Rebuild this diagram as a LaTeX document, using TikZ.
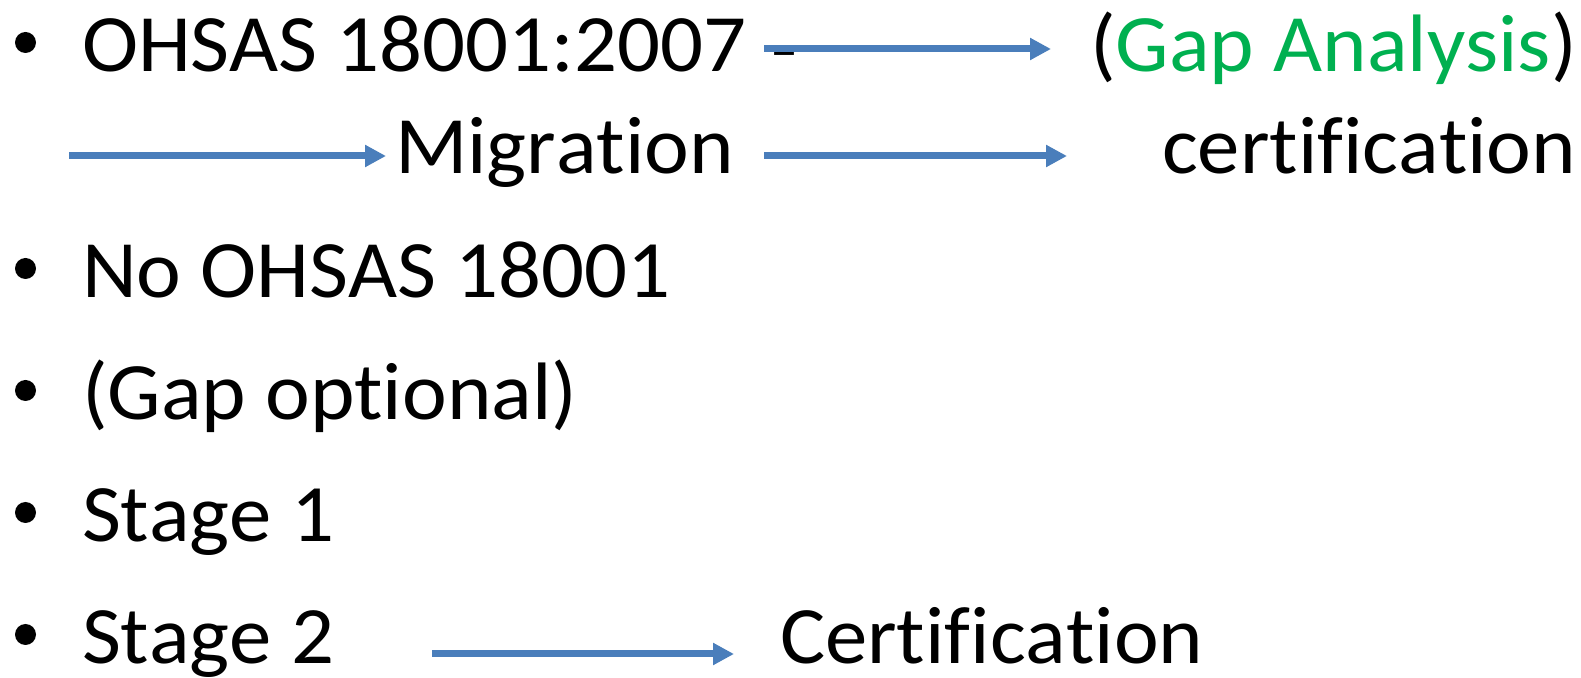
\documentclass[tikz,border=0pt]{standalone}
\usepackage{fontspec}
\setmainfont{Carlito}[Ligatures={NoCommon},Kerning=Off,FakeStretch=1.04]
\usetikzlibrary{arrows.meta}
\definecolor{flowblue}{HTML}{4A7EBB}
\definecolor{gapgreen}{HTML}{00B050}
\begin{document}
\begin{tikzpicture}[x=0.5pt,y=-0.5pt,
  every node/.style={inner sep=0pt,outer sep=0pt,anchor=base west,
    font=\fontsize{40.75pt}{48pt}\selectfont},
  bulletdot/.style={fill=black},
  flow/.style={draw=flowblue,line width=3.5pt,
    -{Triangle[length=10.5pt,width=10.5pt,fill=flowblue]}}]
\useasboundingbox (0,0) rectangle (1581,678);

% bullet markers
\foreach \b in {72,298,420,542,664}
  \fill[bulletdot] (25.5,\b-29.5) circle (5.25pt);

% item texts
\node (ohsas)  at (82,72)   {OHSAS 18001:2007};
\node (dash)   at (771,76)  {-};
\node (gap)    at (1090,72) {(\textcolor{gapgreen}{Gap Analysis})};
\node (migr)   at (395,174) {Migration};
\node (cert)   at (1162,174) {certification};
\node (noohs)  at (82,298)  {No OHSAS 18001};
\node (gapopt) at (82,420)  {(Gap optional)};
\node (st1)    at (82,542)  {Stage 1};
\node (st2)    at (82,664)  {Stage 2};
\node (certB)  at (780,664) {Certification};

% connector end points
\coordinate (a1s) at (764,49);  \coordinate (a1e) at (1051,49);
\coordinate (a2s) at (69,156);  \coordinate (a2e) at (386,156);
\coordinate (a3s) at (764,156); \coordinate (a3e) at (1067,156);
\coordinate (a4s) at (432,654); \coordinate (a4e) at (734,654);

\draw[flow] (a1s) -- (a1e);
\draw[flow] (a2s) -- (a2e);
\draw[flow] (a3s) -- (a3e);
\draw[flow] (a4s) -- (a4e);
\end{tikzpicture}
\end{document}
